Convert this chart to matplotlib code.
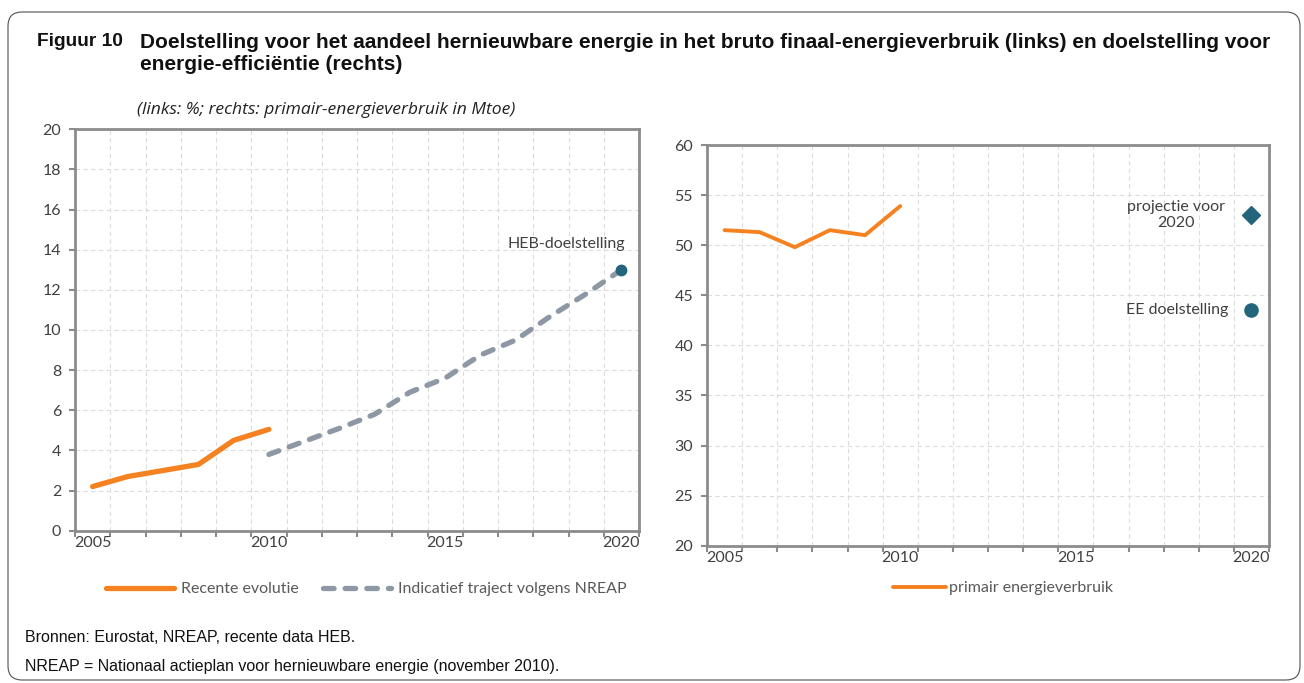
import numpy as np
import matplotlib.pyplot as plt
from matplotlib.patches import FancyBboxPatch
from matplotlib.transforms import IdentityTransform

# links: aandeel hernieuwbare energie (%)
years_recent = [2005, 2006, 2007, 2008, 2009, 2010]
share_recent = [2.2, 2.7, 3.0, 3.3, 4.5, 5.05]
years_nreap = [2010, 2011, 2012, 2013, 2014, 2015, 2016, 2017, 2018, 2019, 2020]
share_nreap = [3.8, 4.45, 5.1, 5.8, 6.9, 7.6, 8.75, 9.5, 10.7, 11.8, 13.0]
heb_year = 2020
heb_target = 13.0

# rechts: primair-energieverbruik (Mtoe)
years_pev = [2005, 2006, 2007, 2008, 2009, 2010]
pev = [51.5, 51.3, 49.8, 51.5, 51.0, 53.9]
proj_year = 2020
proj_2020 = 53.0
ee_target = 43.5

year_labels = [2005, 2010, 2015, 2020]

ORANGE = '#F58220'
GREY_LINE = '#8E98A4'
BLUE = '#25657C'
SPINE = '#8C8C8C'
GRID = '#DCDCDC'
TXT = '#404040'
FS = 11.5

plt.rcParams['font.family'] = ['Lato', 'DejaVu Sans']

fig = plt.figure(figsize=(13.04, 6.83), dpi=100)
px = IdentityTransform()

# afgeronde rand rond de figuur
frame = FancyBboxPatch((8, 3), 1292, 668, boxstyle='round,pad=0,rounding_size=14',
                       transform=px, fill=False, edgecolor='#505050', linewidth=0.8)
fig.patches.append(frame)

title_kw = dict(transform=px, family='Liberation Sans', weight='bold', va='center',
                color='#111111')
fig.text(37, 683 - 42, 'Figuur 10', fontsize=13.8, **title_kw)
fig.text(140, 683 - 42,
         'Doelstelling voor het aandeel hernieuwbare energie in het bruto finaal-energieverbruik (links) en doelstelling voor',
         fontsize=15, **title_kw)
fig.text(140, 683 - 64, 'energie-efficiëntie (rechts)', fontsize=15, **title_kw)
fig.text(137, 683 - 110, '(links: %; rechts: primair-energieverbruik in Mtoe)',
         transform=px, family='Open Sans', style='italic', fontsize=12.6, va='center',
         color='#222222')

note_kw = dict(transform=px, family='Liberation Sans', fontsize=11.5, va='center',
               color='#111111')
fig.text(25, 683 - 637, 'Bronnen: Eurostat, NREAP, recente data HEB.', **note_kw)
fig.text(25, 683 - 666, 'NREAP = Nationaal actieplan voor hernieuwbare energie (november 2010).',
         **note_kw)


def style_axes(ax, ymin, ymax, ystep):
    bounds = np.arange(2004.5, 2021.0, 1.0)
    ax.set_xlim(2004.5, 2020.5)
    ax.set_ylim(ymin, ymax)
    ax.set_xticks(bounds)
    ax.set_xticklabels([])
    ax.set_xticks(year_labels, minor=True)
    ax.set_xticklabels([str(y) for y in year_labels], minor=True)
    ax.set_yticks(np.arange(ymin, ymax + ystep / 2, ystep))
    ax.tick_params(axis='both', which='major', direction='out', length=4, width=1.5,
                   color=SPINE, labelcolor=TXT, labelsize=FS)
    ax.tick_params(axis='x', which='minor', length=0, pad=4, labelcolor=TXT, labelsize=FS)
    ax.tick_params(axis='y', pad=6)
    for s in ax.spines.values():
        s.set_color(SPINE)
        s.set_linewidth(2.0)
    ax.grid(True, which='major', color=GRID, linestyle=(0, (4, 3)), linewidth=0.8)
    ax.set_axisbelow(True)


# linker grafiek
ax1 = fig.add_axes([75 / 1304, 1 - 530.7 / 683, 564 / 1304, 401.4 / 683])
style_axes(ax1, 0, 20, 2)
l1, = ax1.plot(years_recent, share_recent, color=ORANGE, linewidth=3.8,
               solid_capstyle='round', label='Recente evolutie')
l2, = ax1.plot(years_nreap, share_nreap, color=GREY_LINE, linewidth=3.8,
               dashes=(2.0, 2.1), dash_capstyle='round',
               label='Indicatief traject volgens NREAP')
ax1.plot([heb_year], [heb_target], 'o', color=BLUE, markersize=7.5, zorder=5)
ax1.text(2020.1, 14.3, 'HEB-doelstelling', ha='right', va='center', fontsize=FS, color=TXT)
ax1.legend(handles=[l1, l2], loc='center', bbox_to_anchor=(366 / 1304, 1 - 589 / 683),
           bbox_transform=fig.transFigure, ncol=2, frameon=False, fontsize=FS,
           handlelength=4.3, handletextpad=0.4, columnspacing=1.5, labelcolor='#595959')

# rechter grafiek
ax2 = fig.add_axes([707 / 1304, 1 - 545.7 / 683, 562 / 1304, 400.7 / 683])
style_axes(ax2, 20, 60, 5)
l3, = ax2.plot(years_pev, pev, color=ORANGE, linewidth=2.8, solid_capstyle='round',
               label='primair energieverbruik')
ax2.plot([proj_year], [proj_2020], 'D', color=BLUE, markersize=9.5, zorder=5)
ax2.plot([proj_year], [ee_target], 'o', color=BLUE, markersize=9.5, zorder=5)
ax2.text(2017.85, proj_2020, 'projectie voor\n2020', ha='center', va='center',
         fontsize=FS, color=TXT, linespacing=1.15)
ax2.text(2019.35, ee_target, 'EE doelstelling', ha='right', va='center', fontsize=FS, color=TXT)
ax2.legend(handles=[l3], loc='center', bbox_to_anchor=(1003 / 1304, 1 - 588 / 683),
           bbox_transform=fig.transFigure, frameon=False, fontsize=FS,
           handlelength=3.3, handletextpad=0.2, labelcolor='#595959')

fig.savefig('out.png', dpi=100)
